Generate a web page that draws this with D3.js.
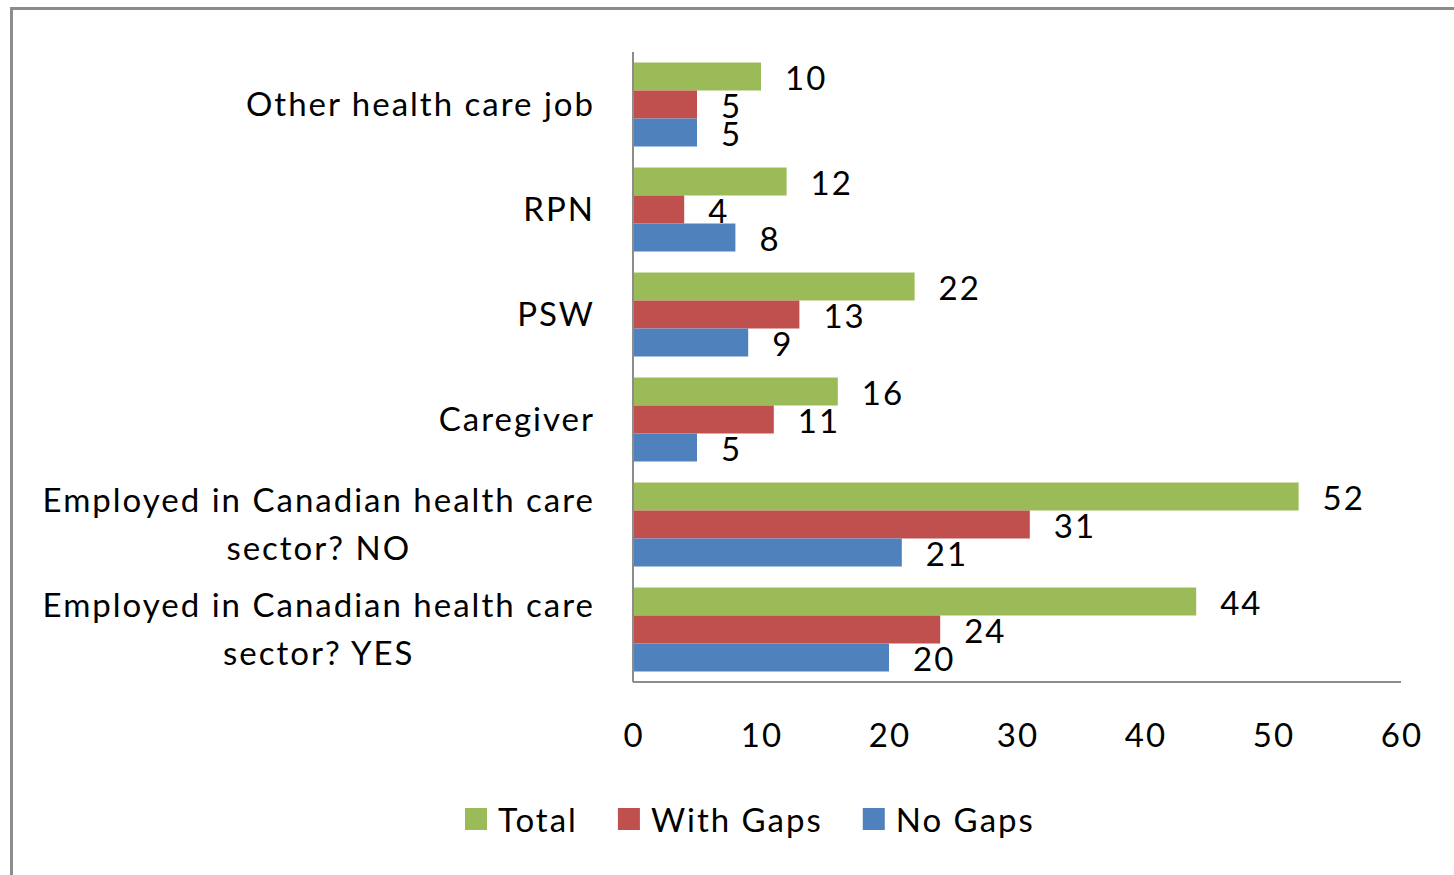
<!DOCTYPE html>
<html lang="en">
<head>
<meta charset="UTF-8">
<title>health care chart</title>
<script src="https://d3js.org/d3.v7.min.js"></script>
<style>
    body { margin: 0; background: #fff; }
    svg text { font-family: Lato, "Open Sans", sans-serif; fill: #000; letter-spacing: 2px; }
</style>
</head>
<body>
<script>
    // data (top to bottom)
    var categories = ["Other health care job", "RPN", "PSW", "Caregiver",
        "Employed in Canadian health care sector? NO",
        "Employed in Canadian health care sector? YES"];
    var categoryLines = [["Other health care job"], ["RPN"], ["PSW"], ["Caregiver"],
        ["Employed in Canadian health care", "sector? NO"],
        ["Employed in Canadian health care", "sector? YES"]];
    var seriesNames = ["Total", "With Gaps", "No Gaps"];
    var total    = [10, 12, 22, 16, 52, 44];
    var withGaps = [5, 4, 13, 11, 31, 24];
    var noGaps   = [5, 8, 9, 5, 21, 20];
    var xTicks   = [0, 10, 20, 30, 40, 50, 60];

    var colors = ["#9bbb59", "#c0504d", "#4f81bd"];
    var seriesValues = [total, withGaps, noGaps];

    var W = 1454, H = 875;
    var fontSize = 33;

    var svg = d3.select("body").append("svg")
        .attr("width", W)
        .attr("height", H);

    // outer chart border (runs off the right and bottom)
    svg.append("rect")
        .attr("x", 11.5).attr("y", 8.5)
        .attr("width", 1470).attr("height", 900)
        .attr("fill", "#fff")
        .attr("stroke", "#8c8c8c")
        .attr("stroke-width", 3);

    var x = d3.scaleLinear().domain([0, 60]).range([633, 1401]);

    var y = d3.scaleBand()
        .domain(categories)
        .range([52, 682])
        .paddingInner(0.2)
        .paddingOuter(0.1);

    var ySub = d3.scaleBand()
        .domain(seriesNames)
        .range([0, y.bandwidth()]);

    // bars
    var groups = svg.append("g").selectAll("g")
        .data(categories)
        .enter().append("g")
        .attr("transform", function (d) { return "translate(0," + y(d) + ")"; });

    groups.each(function (cat, i) {
        var g = d3.select(this);
        seriesNames.forEach(function (s, j) {
            var v = seriesValues[j][i];
            g.append("rect")
                .attr("x", x(0))
                .attr("y", ySub(s))
                .attr("width", x(v) - x(0))
                .attr("height", ySub.bandwidth())
                .attr("fill", colors[j]);
            g.append("text")
                .attr("x", x(v) + 24)
                .attr("y", ySub(s) + ySub.bandwidth() / 2)
                .attr("dominant-baseline", "central")
                .style("font-size", fontSize + "px")
                .text(v);
        });
    });

    // axis lines, no ticks
    svg.append("line")
        .attr("x1", x(0)).attr("x2", x(0))
        .attr("y1", 52).attr("y2", 682)
        .attr("stroke", "#8c8c8c").attr("stroke-width", 2);
    svg.append("line")
        .attr("x1", x(0)).attr("x2", x(60))
        .attr("y1", 682).attr("y2", 682)
        .attr("stroke", "#8c8c8c").attr("stroke-width", 2);

    // x tick labels
    svg.append("g").selectAll("text")
        .data(xTicks)
        .enter().append("text")
        .attr("x", function (d) { return x(d) + 1; })
        .attr("y", 734)
        .attr("text-anchor", "middle")
        .attr("dominant-baseline", "central")
        .style("font-size", fontSize + "px")
        .text(function (d) { return d; });

    // category labels: block right aligned at 595, lines centred within block
    var lineH = 48;
    categories.forEach(function (cat, i) {
        var lines = categoryLines[i];
        var g = svg.append("g");
        var texts = lines.map(function (l, k) {
            return g.append("text")
                .attr("y", y(cat) + y.bandwidth() / 2 - 2 + (k - (lines.length - 1) / 2) * lineH)
                .attr("text-anchor", "middle")
                .attr("dominant-baseline", "central")
                .style("font-size", fontSize + "px")
                .text(l);
        });
        var maxW = d3.max(texts, function (t) { return t.node().getComputedTextLength(); });
        texts.forEach(function (t) { t.attr("x", 595 - maxW / 2); });
    });

    // legend
    var lx = 465, ly = 819, sq = 22;
    seriesNames.forEach(function (s, j) {
        svg.append("rect")
            .attr("x", lx).attr("y", ly - sq / 2)
            .attr("width", sq).attr("height", sq)
            .attr("fill", colors[j]);
        var t = svg.append("text")
            .attr("x", lx + sq + 11)
            .attr("y", ly)
            .attr("dominant-baseline", "central")
            .style("font-size", fontSize + "px")
            .text(s);
        lx += sq + 11 + t.node().getComputedTextLength() + 40;
    });
</script>
</body>
</html>
